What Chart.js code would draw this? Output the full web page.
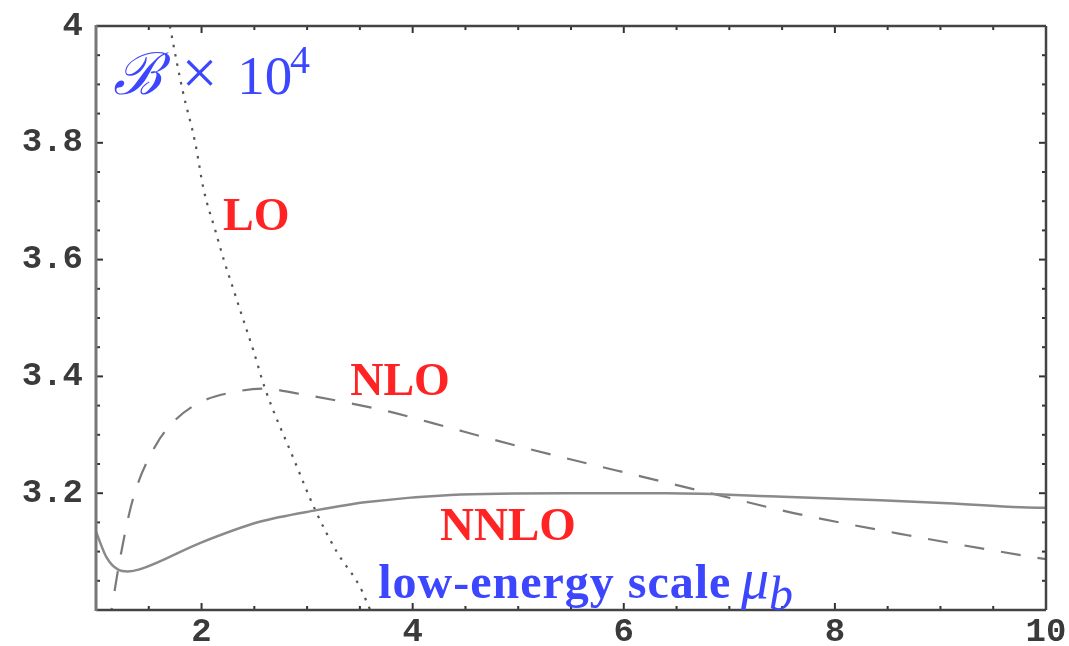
<!DOCTYPE html>
<html>
<head>
  <title>B x 10^4 vs low-energy scale</title>
  <script src="https://cdn.jsdelivr.net/npm/chart.js"></script>
  <style>
    html, body { margin: 0; padding: 0; overflow: hidden; background: #fff; }
    #wrap { width: 1069px; height: 680px; }
  </style>
</head>
<body>
  <div id="wrap"><canvas id="myChart"></canvas></div>

  <script>
    // axis ticks
    const xTicks = [2, 4, 6, 8, 10];
    const yTicks = [3.2, 3.4, 3.6, 3.8, 4];
    const yTickLabels = ['3.2', '3.4', '3.6', '3.8', '4'];

    // LO (dotted)
    const loMu = [1.62, 1.70, 1.82, 1.94, 2.02, 2.13, 2.21, 2.30, 2.39, 2.49, 2.60, 2.87, 3.08, 3.28, 3.50, 3.60, 3.70];
    const loB  = [4.08, 4.00, 3.89, 3.80, 3.72, 3.65, 3.60, 3.55, 3.50, 3.445, 3.38, 3.26, 3.17, 3.10, 3.04, 3.00, 2.97];

    // NLO (dashed)
    const nloMu = [1.12, 1.23, 1.35, 1.56, 1.75, 1.99, 2.30, 2.60, 2.90, 3.41, 3.77, 4.19, 4.80, 5.14, 6.18, 6.89, 7.61, 8.69, 9.76, 10];
    const nloB  = [2.97, 3.09, 3.19, 3.28, 3.325, 3.356, 3.373, 3.379, 3.371, 3.354, 3.34, 3.32, 3.29, 3.274, 3.228, 3.197, 3.166, 3.128, 3.094, 3.087];

    // NNLO (solid)
    const nnloMu = [1.0, 1.1, 1.21, 1.30, 1.42, 1.99, 2.55, 3.09, 3.57, 4.36, 5.46, 6.41, 7.51, 8.43, 9.07, 9.76, 10];
    const nnloB  = [3.134, 3.09, 3.069, 3.066, 3.070, 3.115, 3.151, 3.171, 3.185, 3.197, 3.20, 3.20, 3.194, 3.188, 3.183, 3.176, 3.175];

    const pts = (xs, ys) => xs.map((v, i) => ({ x: v, y: ys[i] }));

    const RED = 'rgb(255, 35, 35)';
    const BLUE = 'rgb(60, 70, 255)';

    // frame with inward ticks on all four sides
    const framePlugin = {
      id: 'frame',
      afterDatasetsDraw(chart) {
        const { ctx, chartArea: a, scales: { x, y } } = chart;
        ctx.save();
        ctx.strokeStyle = '#333';
        ctx.lineWidth = 2;
        const seg = (x1, y1, x2, y2) => { ctx.beginPath(); ctx.moveTo(x1, y1); ctx.lineTo(x2, y2); ctx.stroke(); };
        for (let k = 1; k < 18; k++) {
          const v = 1 + k * 0.5;
          const px = x.getPixelForValue(v);
          const len = xTicks.includes(v) ? 7 : 4;
          seg(px, a.bottom, px, a.bottom - len);
          seg(px, a.top, px, a.top + len);
        }
        for (let k = 1; k < 20; k++) {
          const py = y.getPixelForValue(3 + k * 0.05);
          const len = k % 4 === 0 ? 7 : 4;
          seg(a.left, py, a.left + len, py);
          seg(a.right, py, a.right - len, py);
        }
        ctx.strokeStyle = '#444';
        ctx.lineWidth = 2.5;
        seg(a.left, a.bottom, a.right, a.bottom);
        seg(a.left, a.top, a.right, a.top);
        seg(a.right, a.top, a.right, a.bottom);
        ctx.strokeStyle = '#777';
        ctx.lineWidth = 3;
        seg(a.left, a.top - 1, a.left, a.bottom + 1);
        ctx.restore();
      }
    };

    // curve labels and axis titles
    const textPlugin = {
      id: 'labels',
      afterDraw(chart) {
        const { ctx, scales: { x, y } } = chart;
        ctx.save();
        ctx.textAlign = 'left';
        ctx.textBaseline = 'alphabetic';
        const put = (txt, mu, b, font, color) => {
          ctx.font = font;
          ctx.fillStyle = color;
          ctx.fillText(txt, x.getPixelForValue(mu), y.getPixelForValue(b));
        };
        put('LO', 2.204, 3.651, 'bold 46px "Liberation Serif"', RED);
        put('NLO', 3.408, 3.368, 'bold 46px "Liberation Serif"', RED);
        put('NNLO', 4.26, 3.120, 'bold 47px "Liberation Serif"', RED);

        // low-energy scale mu_b
        ctx.fillStyle = BLUE;
        const bx = y.getPixelForValue(3.0205);
        ctx.font = 'bold 48px "Liberation Serif"';
        ctx.letterSpacing = '1px';
        ctx.fillText('low-energy scale', x.getPixelForValue(3.673), bx);
        ctx.letterSpacing = '0px';
        let px = x.getPixelForValue(7.11);
        ctx.font = 'italic 56px "Liberation Serif"';
        ctx.fillText('\u03bc', px, bx);
        px += ctx.measureText('\u03bc').width;
        ctx.font = 'italic 48px "Liberation Serif"';
        ctx.fillText('b', px, bx + 12);

        // B x 10^4
        const ty = y.getPixelForValue(3.8836);
        ctx.font = 'italic 58px "DejaVu Serif"';
        ctx.fillText('\u212c', x.getPixelForValue(1.161), ty);
        ctx.font = '64px "Liberation Serif"';
        ctx.fillText('\u00d7', x.getPixelForValue(1.81), ty);
        ctx.font = '55px "Liberation Serif"';
        ctx.fillText('10', x.getPixelForValue(2.337), ty);
        ctx.font = '40px "Liberation Serif"';
        ctx.fillText('4', x.getPixelForValue(2.839), ty - 21);
        ctx.restore();
      }
    };

    const tickFont = { family: '"Liberation Mono"', size: 34, weight: 'bold' };

    document.addEventListener('DOMContentLoaded', () => {
      const ctx = document.getElementById('myChart').getContext('2d');
      new Chart(ctx, {
        type: 'line',
        data: {
          datasets: [
            {
              label: 'NNLO',
              data: pts(nnloMu, nnloB),
              borderColor: '#8a8a8a',
              borderWidth: 2.5,
              pointRadius: 0,
              cubicInterpolationMode: 'monotone',
              fill: false
            },
            {
              label: 'NLO',
              data: pts(nloMu, nloB),
              borderColor: '#7a7a7a',
              borderWidth: 2.2,
              borderDash: [20, 17],
              pointRadius: 0,
              cubicInterpolationMode: 'monotone',
              fill: false
            },
            {
              label: 'LO',
              data: pts(loMu, loB),
              borderColor: '#555',
              borderWidth: 2.2,
              borderDash: [2.5, 7],
              pointRadius: 0,
              cubicInterpolationMode: 'monotone',
              fill: false
            }
          ]
        },
        options: {
          responsive: true,
          maintainAspectRatio: false,
          animation: false,
          layout: { padding: { top: 26, right: 23, left: 0, bottom: 0 } },
          plugins: { legend: { display: false }, tooltip: { enabled: false } },
          scales: {
            x: {
              type: 'linear',
              min: 1,
              max: 10,
              grid: { display: false, drawTicks: false },
              border: { display: false },
              afterBuildTicks: s => { s.ticks = xTicks.map(v => ({ value: v })); },
              afterFit: s => { s.height = 70; s.paddingLeft = 0; s.paddingRight = 0; },
              ticks: {
                padding: 2,
                color: '#3a3a3a',
                font: tickFont,
                maxRotation: 0,
                autoSkip: false,
                callback: v => String(v)
              }
            },
            y: {
              type: 'linear',
              min: 3,
              max: 4,
              grid: { display: false, drawTicks: false },
              border: { display: false },
              afterBuildTicks: s => { s.ticks = yTicks.map(v => ({ value: v })); },
              afterFit: s => { s.width = 96; s.paddingTop = 0; s.paddingBottom = 0; },
              ticks: {
                padding: 13,
                color: '#3a3a3a',
                font: tickFont,
                autoSkip: false,
                callback: (v, i) => yTickLabels[i]
              }
            }
          }
        },
        plugins: [framePlugin, textPlugin]
      });
    });
  </script>
</body>
</html>
